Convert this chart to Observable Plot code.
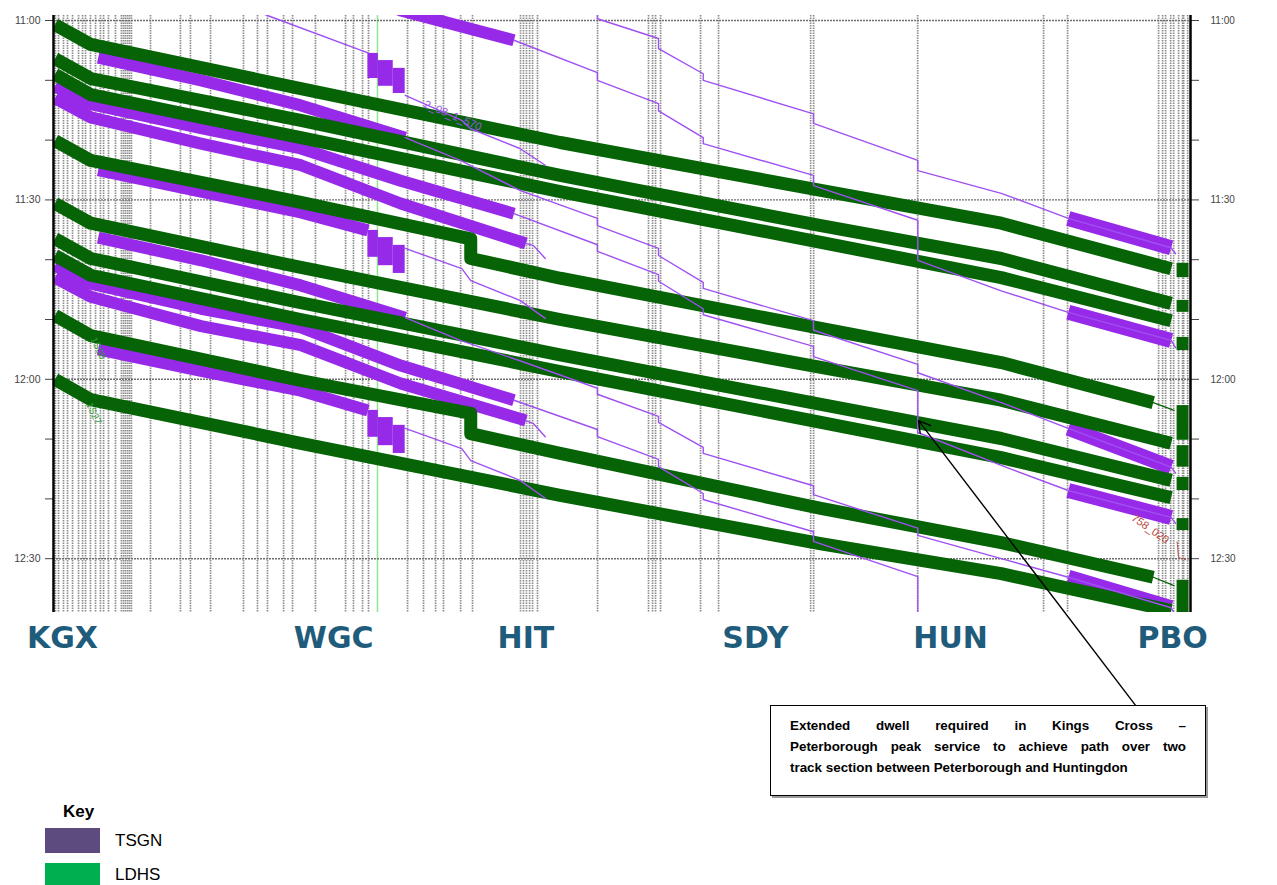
<!DOCTYPE html>
<html><head><meta charset="utf-8">
<script src="https://cdn.jsdelivr.net/npm/d3@7"></script>
<script src="https://cdn.jsdelivr.net/npm/@observablehq/plot@0.6"></script>
<style>
body{margin:0;background:#fff;}
#wrap{position:relative;width:1277px;height:885px;overflow:hidden;font-family:"Liberation Sans",Arial,sans-serif;}
#chart{position:absolute;left:0;top:0;}
#note{position:absolute;left:770px;top:705px;width:436px;height:91px;box-sizing:border-box;border:1.5px solid #000;box-shadow:2px 2px 0 #9a9a9a;background:#fff;padding:9px 19px 0 19px;font-weight:bold;font-size:13.4px;line-height:21px;color:#000;}
#note span{display:block;white-space:nowrap}
#note span.j{text-align:justify;text-align-last:justify;white-space:normal}
.keyitem{position:absolute;font-size:17px;color:#000;}
.sw{position:absolute;left:45px;width:55px;}
</style></head>
<body><div id="wrap"><div id="chart"></div><div id="note"></div><div id="key"></div></div>
<script>
// ---------- axes / labels ----------
const stationNames = ["KGX","WGC","HIT","SDY","HUN","PBO"];
const stationLabelMiles = [0.6, 18.8, 31.7, 47.1, 60.2, 75.1];
const timeTicks = [0, 30, 60, 90];              // minutes after 11:00
const timeLabels = ["11:00","11:30","12:00","12:30"];
const minorTicks = [10, 20, 40, 50, 70, 80];
// timing points (miles from Kings Cross) shown as vertical grid
const timingPoints = [0.13,0.34,0.67,0.94,1.28,1.68,1.95,2.15,2.48,2.82,3.15,3.36,3.69,4.16,4.56,4.70,4.83,4.97,5.10,5.23,
  6.51,8.52,9.19,10.54,12.75,13.69,14.36,15.44,16.04,17.58,19.60,20.13,20.74,21.14,23.76,24.83,25.64,26.17,27.32,28.12,
  31.34,31.54,31.74,31.95,32.15,32.48,36.51,39.93,40.20,40.40,40.74,43.42,44.63,50.81,51.01,57.99,66.44,68.05,
  74.16,74.43,74.63,74.97,75.17,75.50,75.77,75.84,76.11];
const wgcPlatform = [21.74];

// ---------- LDHS (green) paths: [mile, minutes after 11:00] ----------
const G1 = [[0.1,0.7],[2.5,4.0],[16.6,11.4],[34.0,20.4],[51.5,28.4],[63.6,33.9],[75.0,41.5]];
const G2 = [[0.1,6.4],[2.5,9.7],[16.6,16.7],[34.0,25.9],[51.5,34.3],[63.6,39.8],[75.0,47.3]];
const G3 = [[0.1,9.0],[2.5,12.4],[16.6,19.6],[34.0,28.6],[51.5,37.1],[63.6,43.0],[75.0,50.2]];
const G4 = [[0.1,20.1],[2.5,23.4],[16.6,30.4],[28.0,36.5],[28.0,39.8],[34.0,43.1],[51.5,51.5],[63.6,57.2],[73.8,63.9]];
const G5 = [[0.1,30.6],[2.5,33.9],[16.6,41.3],[34.0,50.0],[51.5,58.0],[63.6,63.5],[75.0,70.7]];
const G6 = [[0.1,36.5],[2.5,39.8],[16.6,47.2],[34.0,55.9],[51.5,64.2],[63.6,69.9],[75.0,76.9]];
const G7 = [[0.1,39.3],[2.5,42.6],[16.6,50.0],[34.0,58.7],[51.5,67.2],[63.6,73.1],[75.0,79.8]];
const G8 = [[0.1,49.3],[2.5,52.7],[16.6,60.2],[28.0,65.7],[28.0,69.1],[34.0,72.4],[51.5,81.6],[63.6,87.3],[73.8,93.1]];
const G9 = [[0.1,60.0],[2.5,63.4],[16.6,70.7],[34.0,79.4],[51.5,87.5],[63.6,92.5],[75.0,98.7]];
const ldhsRunIns = [[[73.8,63.9],[75.2,65.2]], [[73.8,93.1],[75.2,94.5]]];
const pboGreenOccupation = [[40.6,43.0],[46.8,48.8],[53.0,55.2],[64.4,70.2],[71.1,74.7],[76.4,78.6],[83.3,85.3],[93.6,99.0]];

// ---------- TSGN (purple) thick blocking paths ----------
const P0  = [[16.6,-8.7],[23.3,-1.7],[30.9,3.3]];
const Pa  = [[3.0,6.2],[9.9,10.0],[16.6,14.2],[23.6,19.6]];
const Pb  = [[0.1,11.0],[2.5,14.0],[9.9,18.0],[16.6,21.4],[23.3,26.8],[30.9,32.3]];
const Pc  = [[0.1,13.0],[2.5,16.2],[9.9,20.6],[16.6,24.2],[23.3,30.6],[31.7,37.3]];
const Pd  = [[3.0,25.0],[9.9,28.6],[16.6,32.1],[21.1,35.1]];
const Pa2 = [[3.0,36.3],[9.9,40.1],[16.6,44.3],[23.6,49.7]];
const Pb2 = [[0.1,41.0],[2.5,44.0],[9.9,48.2],[16.6,51.3],[23.3,57.7],[30.9,63.5]];
const Pc2 = [[0.1,43.0],[2.5,46.2],[9.9,51.1],[16.6,54.3],[23.3,60.7],[31.7,66.9]];
const Pd2 = [[3.0,55.0],[9.9,58.6],[16.6,61.9],[21.1,65.2]];
// Welwyn Garden City platform blocks [mile from, mile to, t from, t to]
const wgcBlocks = [
  [21.1,21.8,5.5,9.7],[21.8,22.8,6.7,11.0],[22.8,23.6,8.0,12.2],
  [21.1,21.8,35.1,39.6],[21.8,22.8,36.3,41.0],[22.8,23.6,37.6,42.3],
  [21.1,21.8,65.2,69.7],[21.8,22.8,66.4,71.1],[22.8,23.6,67.7,72.4]];
// Peterborough approach blocks [t at mile 68.1, t at mile 75.0]
const pboPurple = [[33.1,38.0],[48.8,53.5],[68.2,74.7],[78.6,83.1],[93.1,98.2]];

// ---------- TSGN thin (stopping) paths ----------
const S0in  = [[9.9,-5.4],[14.4,-0.8],[21.1,5.4]];
const S0out = [[23.6,12.5],[27.4,16.7],[28.0,18.1],[31.3,21.4],[33.0,24.2]];
const S1out = [[23.6,38.1],[27.4,41.5],[28.0,43.5],[31.3,46.8],[33.0,49.8]];
const S2out = [[23.6,68.2],[27.4,71.6],[28.0,73.6],[31.3,76.9],[33.0,79.9]];
const Hstub1 = [[31.7,37.3],[32.2,37.6],[33.0,39.8]];
const Hstub2 = [[31.7,66.9],[32.2,67.4],[33.0,69.6]];
const L1 = [[31.3,-6.2],[36.5,-1.3],[36.5,-0.3],[40.6,3.0],[40.6,4.7],[43.6,8.9],[43.6,10.0],[51.0,15.6],[51.0,17.2],[58.0,23.4],[58.0,25.1],[63.6,28.9],[68.1,33.1],[75.0,38.0],[75.3,39.0]];
const L2 = [[30.9,3.3],[36.5,8.7],[36.5,10.0],[40.6,13.9],[40.6,15.1],[43.6,19.6],[43.6,20.6],[51.0,25.9],[51.0,27.6],[58.0,33.4],[58.0,40.1],[63.6,45.2],[68.1,48.8],[75.0,53.5],[75.3,54.7]];
const L3 = [[23.6,19.6],[27.3,23.4],[31.3,28.4],[36.5,33.1],[36.5,34.3],[40.6,38.1],[40.6,39.3],[43.6,43.8],[43.6,44.8],[51.0,50.2],[51.0,51.8],[58.0,57.5],[58.0,58.9],[63.6,63.9],[68.1,68.2],[75.0,74.7],[75.3,75.7]];
const L4 = [[30.9,32.3],[36.5,37.5],[36.5,38.6],[40.6,42.5],[40.6,43.6],[43.6,48.2],[43.6,49.2],[51.0,54.5],[51.0,56.2],[58.0,61.9],[58.0,68.9],[63.6,74.4],[68.1,78.6],[75.0,83.1],[75.3,84.1]];
const L5 = [[23.6,49.7],[27.3,53.5],[31.3,56.9],[36.5,61.5],[36.5,62.5],[40.6,66.2],[40.6,67.2],[43.6,71.4],[43.6,72.4],[51.0,77.8],[51.0,79.3],[58.0,84.9],[58.0,86.1],[63.6,90.0],[68.1,93.1],[75.0,98.2],[75.3,99.5]];
const L6 = [[30.9,63.5],[36.5,68.4],[36.5,69.6],[40.6,73.4],[40.6,74.6],[43.6,79.1],[43.6,80.1],[51.0,85.5],[51.0,87.1],[58.0,93.0],[58.0,101.2]];

// ---------- annotations ----------
const headcodes = [{code:"1S08", mile:3.0, t:54.8}, {code:"1S27", mile:2.7, t:65.7}];
const pathTag = [{code:"2_08_1_570", mile:26.8, t:15.9}];
const redTag = [{code:"758_020", mile:73.6, t:85.0}];
const redLink = [[75.4,87.2],[75.5,89.8],[76.0,90.2]];
const dwellNote = [{fromMile:72.6, fromT:114.5, toMile:58.05, toT:66.9}];
const noteLines = ["Extended dwell required in Kings Cross \u2013",
  "Peterborough peak service to achieve path over two",
  "track section between Peterborough and Huntingdon"];
const keyLabels = ["TSGN","LDHS"];
const keyColors = ["#5d4a7e","#00b050"];

const GREEN = "#066306", PURPLE = "#9729e8", PURPLE_THIN = "#9f50f2";

const rows = (list) => list.flatMap(([id, pts]) => pts.map(([mile, t]) => ({id, mile, t})));
const greenRows = rows([["G1",G1],["G2",G2],["G3",G3],["G4",G4],["G5",G5],["G6",G6],["G7",G7],["G8",G8],["G9",G9]]);
const purpleRows = rows([["P0",P0],["Pa",Pa],["Pb",Pb],["Pc",Pc],["Pd",Pd],["Pa2",Pa2],["Pb2",Pb2],["Pc2",Pc2],["Pd2",Pd2]]);
const thinRows = rows([["S0in",S0in],["S0out",S0out],["S1out",S1out],["S2out",S2out],["H1",Hstub1],["H2",Hstub2],
  ["L1",L1],["L2",L2],["L3",L3],["L4",L4],["L5",L5],["L6",L6]]);
const greenRunRows = rows(ldhsRunIns.map((p,i) => ["R"+i, p]));
const pboPurpleRows = pboPurple.flatMap(([a,b],i) => [{id:i, mile:68.1, t:a},{id:i, mile:75.0, t:b}]);

const chart = Plot.plot({
  width: 1277, height: 800,
  marginLeft: 53, marginRight: 87, marginTop: 15, marginBottom: 188,
  x: {domain: [0, 76.3], axis: null},
  y: {domain: [-0.84, 99.0], reverse: true},
  style: {background: "transparent", fontFamily: "Liberation Sans, Arial, sans-serif", overflow: "visible"},
  marks: [
    Plot.ruleX(timingPoints, {stroke: "#8d8d8d", strokeWidth: 1.7, strokeDasharray: "1.5,1"}),
    Plot.ruleX(wgcPlatform, {stroke: "#8fe88f", strokeWidth: 1.5}),
    Plot.ruleY(timeTicks, {stroke: "#6f6f6f", strokeWidth: 1.4, strokeDasharray: "2,1"}),
    Plot.axisY({anchor: "left", ticks: timeTicks, tickFormat: d => timeLabels[timeTicks.indexOf(d)], tickSize: 8, tickPadding: 5, fontSize: 10.5, color: "#444", label: null}),
    Plot.axisY({anchor: "left", ticks: minorTicks, tickFormat: () => "", tickSize: 8, color: "#444", label: null}),
    Plot.axisY({anchor: "right", ticks: timeTicks, tickFormat: d => timeLabels[timeTicks.indexOf(d)], tickSize: 8, tickPadding: 12, fontSize: 10, color: "#444", label: null}),
    Plot.axisY({anchor: "right", ticks: minorTicks, tickFormat: () => "", tickSize: 8, color: "#444", label: null}),
    // WGC platform blocks
    Plot.rect(wgcBlocks, {x1: d => d[0], x2: d => d[1], y1: d => d[2], y2: d => d[3], fill: PURPLE, clip: true}),
    // TSGN thick
    Plot.line(purpleRows, {x: "mile", y: "t", z: "id", stroke: PURPLE, strokeWidth: 12, strokeLinecap: "butt", strokeLinejoin: "round", clip: true}),
    Plot.line(pboPurpleRows, {x: "mile", y: "t", z: "id", stroke: PURPLE, strokeWidth: 15, strokeLinecap: "butt", clip: true}),
    // LDHS
    Plot.line(greenRows, {x: "mile", y: "t", z: "id", stroke: GREEN, strokeWidth: 13, strokeLinecap: "butt", strokeLinejoin: "round", clip: true}),
    Plot.line(greenRunRows, {x: "mile", y: "t", z: "id", stroke: GREEN, strokeWidth: 1.2, clip: true}),
    Plot.rect(pboGreenOccupation, {x1: 75.4, x2: 76.2, y1: d => d[0], y2: d => d[1], fill: GREEN, clip: true}),
    // TSGN thin stoppers
    Plot.line(thinRows, {x: "mile", y: "t", z: "id", stroke: PURPLE_THIN, strokeWidth: 1.4, clip: true}),
    // frame lines
    Plot.ruleX([0, 76.3], {stroke: "#000", strokeWidth: 2.5}),
    // labels
    Plot.text(headcodes, {x: "mile", y: "t", text: "code", rotate: 65, fontSize: 10, fill: "#2f9a2f"}),
    Plot.text(pathTag, {x: "mile", y: "t", text: "code", rotate: 23, fontSize: 11, fill: "#9b59e0"}),
    Plot.text(redTag, {x: "mile", y: "t", text: "code", rotate: 35, fontSize: 11, fill: "#b8453a"}),
    Plot.line(redLink, {x: d => d[0], y: d => d[1], stroke: "#b8453a", strokeWidth: 1, strokeDasharray: "2,1"}),
    Plot.text(stationNames, {x: (d, i) => stationLabelMiles[i], frameAnchor: "bottom", dy: 35, text: d => d,
      fontSize: 30, fontWeight: "bold", fontFamily: "DejaVu Sans", fill: "#1f5b7a"}),
    Plot.arrow(dwellNote, {x1: "fromMile", y1: "fromT", x2: "toMile", y2: "toT", stroke: "#000", strokeWidth: 1.4, headLength: 14})
  ]
});
document.getElementById("chart").appendChild(chart);

// annotation box
const note = document.getElementById("note");
noteLines.forEach((t, i) => {
  const s = document.createElement("span");
  s.textContent = t;
  if (i < noteLines.length - 1) s.className = "j";
  note.appendChild(s);
});

// key
const key = document.getElementById("key");
const kt = document.createElement("div");
kt.className = "keyitem"; kt.style.left = "63px"; kt.style.top = "802px"; kt.style.fontWeight = "bold"; kt.textContent = "Key";
key.appendChild(kt);
keyLabels.forEach((lab, i) => {
  const sw = document.createElement("div");
  sw.className = "sw"; sw.style.top = (828 + i * 35) + "px"; sw.style.height = "25px"; sw.style.background = keyColors[i];
  key.appendChild(sw);
  const tx = document.createElement("div");
  tx.className = "keyitem"; tx.style.left = "115px"; tx.style.top = (831 + i * 34) + "px"; tx.textContent = lab;
  key.appendChild(tx);
});
</script></body></html>
